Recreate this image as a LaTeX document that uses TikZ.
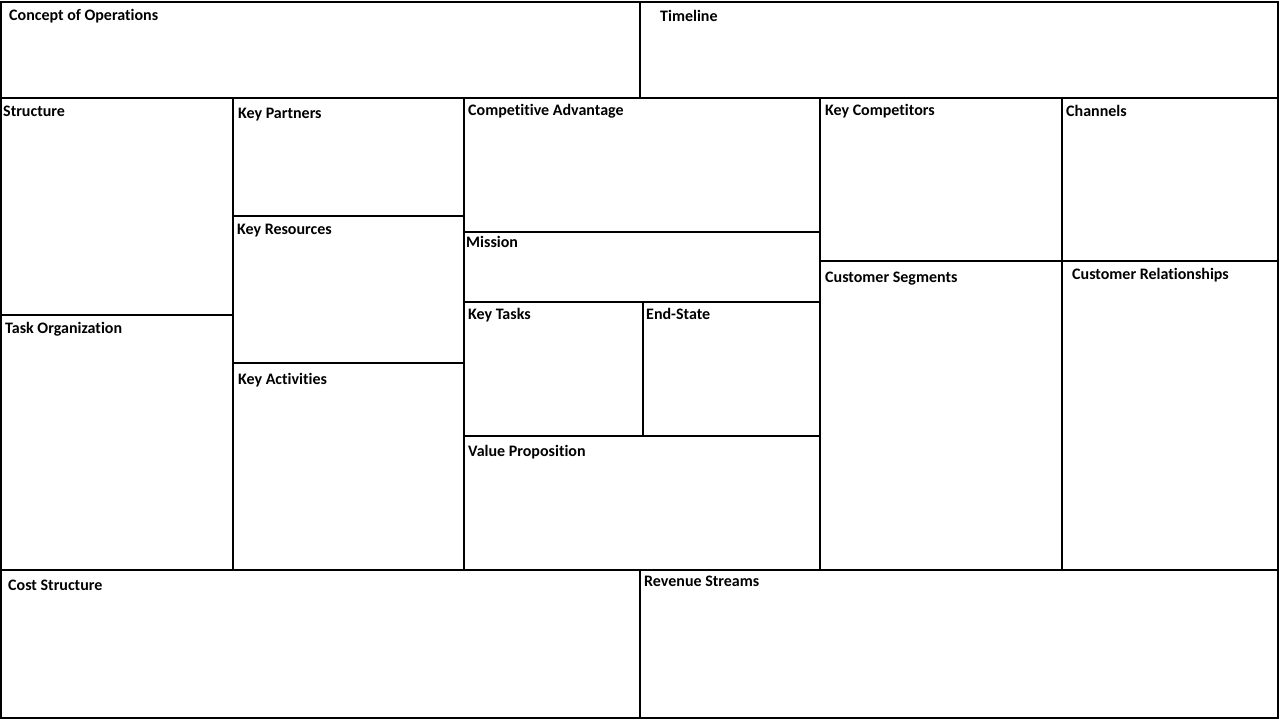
\documentclass[tikz,border=0pt]{standalone}
\usepackage{fontspec}
\setmainfont{Carlito}[Ligatures=NoCommon]
\tikzset{
  cell/.style={line width=1.1pt},
  head/.style={anchor=base west, inner sep=0pt, yshift=-1pt, font=\fontsize{16}{18}\selectfont\bfseries}
}
\begin{document}
\begin{tikzpicture}[x=1pt, y=-1pt]
        \useasboundingbox (0,0) rectangle (1280,720);

        % Top row
        \draw[cell] (1,2) rectangle (640,98);
        \node[head] (conops) at (9,19) {Concept of Operations};
        \draw[cell] (640,2) rectangle (1278,98);
        \node[head] (timeline) at (660,20) {Timeline};

        % Left column
        \draw[cell] (1,98) rectangle (233,315);
        \node[head] (structure) at (3,115) {Structure};
        \draw[cell] (1,315) rectangle (233,570);
        \node[head] (taskorg) at (5,332) {Task Organization};

        % Key partners, resources, activities
        \draw[cell] (233,98) rectangle (464,216);
        \node[head] (partners) at (238,117) {Key Partners};
        \draw[cell] (233,216) rectangle (464,363);
        \node[head] (resources) at (237,233) {Key Resources};
        \draw[cell] (233,363) rectangle (464,570);
        \node[head] (activities) at (238,383) {Key Activities};

        % Centre column
        \draw[cell] (464,98) rectangle (820,232);
        \node[head] (advantage) at (468,114) {Competitive Advantage};
        \draw[cell] (464,232) rectangle (820,302);
        \node[head] (mission) at (466,246) {Mission};
        \draw[cell] (464,302) rectangle (643,436);
        \node[head] (tasks) at (468,318) {Key Tasks};
        \draw[cell] (643,302) rectangle (820,436);
        \node[head] (endstate) at (646,318) {End-State};
        \draw[cell] (464,436) rectangle (820,570);
        \node[head] (value) at (468,455) {Value Proposition};

        % Competitors and segments
        \draw[cell] (820,98) rectangle (1062,261);
        \node[head] (competitors) at (825,114) {Key Competitors};
        \draw[cell] (820,261) rectangle (1062,570);
        \node[head] (segments) at (825,281) {Customer Segments};

        % Channels and relationships
        \draw[cell] (1062,98) rectangle (1278,261);
        \node[head] (channels) at (1066,115) {Channels};
        \draw[cell] (1062,261) rectangle (1278,570);
        \node[head] (relations) at (1072,278) {Customer Relationships};

        % Bottom row
        \draw[cell] (1,570) rectangle (640,718);
        \node[head] (cost) at (8,589) {Cost Structure};
        \draw[cell] (640,570) rectangle (1278,718);
        \node[head] (revenue) at (644,585) {Revenue Streams};
\end{tikzpicture}
\end{document}
